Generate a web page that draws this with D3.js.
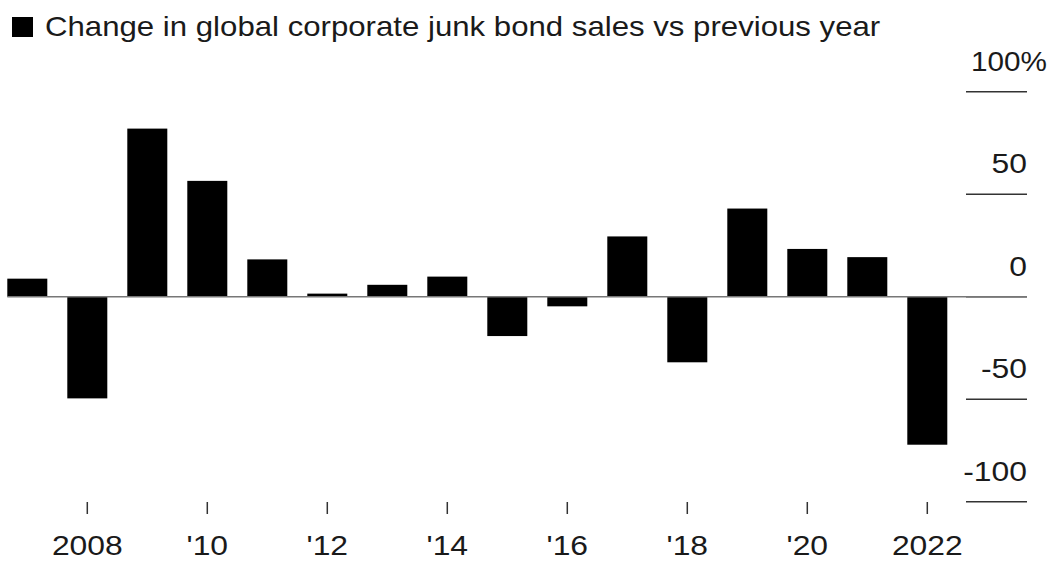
<!DOCTYPE html>
<html lang="en">
<head>
<meta charset="utf-8">
<title>Junk bond sales</title>
<script src="https://d3js.org/d3.v7.min.js"></script>
<style>
  body { margin: 0; background: #fff; }
  svg text { font-family: "Liberation Sans", Arial, sans-serif; fill: #1a1a1a; }
</style>
</head>
<body>
<div id="chart"></div>
<script>
// data
const years = [2007, 2008, 2009, 2010, 2011, 2012, 2013, 2014, 2015, 2016, 2017, 2018, 2019, 2020, 2021, 2022];
const change = [8.8, -49.6, 82, 56.5, 18.2, 1.5, 5.8, 9.8, -19.2, -4.7, 29.4, -32, 43, 23.3, 19.3, -72.2];
const xTickYears = [2008, 2010, 2012, 2014, 2016, 2018, 2020, 2022];
const xTickLabels = ["2008", "'10", "'12", "'14", "'16", "'18", "'20", "2022"];
const yTicks = [100, 50, 0, -50, -100];
const yTickLabels = ["100%", "50", "0", "-50", "-100"];
const title = "Change in global corporate junk bond sales vs previous year";

const width = 1050, height = 563;
const stretch = 1.18; // reference type is set wide

const svg = d3.select("#chart").append("svg")
  .attr("width", width).attr("height", height);

const x = d3.scaleBand()
  .domain(years)
  .range([-2.7, 957.3])
  .paddingInner(1 / 3)
  .paddingOuter(1 / 6);

const y = d3.scaleLinear().domain([-100, 100]).range([501.7, 91.7]);

// legend / title
svg.append("rect").attr("x", 12).attr("y", 17).attr("width", 21).attr("height", 20).attr("fill", "#000");
svg.append("text")
  .attr("transform", "translate(45,36) scale(1.155,1)")
  .attr("font-size", 27).text(title);

// right side gridline stubs + labels
const gridX0 = 966, gridX1 = 1027;
svg.append("g").selectAll("line").data(yTicks).join("line")
  .attr("x1", gridX0).attr("x2", gridX1)
  .attr("y1", d => y(d)).attr("y2", d => y(d))
  .attr("stroke", "#333").attr("stroke-width", 1.5);

// top label keeps its "%" inside the frame
svg.append("g").selectAll("text").data(yTicks).join("text")
  .attr("transform", (d, i) => i === 0
    ? `translate(971,${y(d) - 21}) scale(1.1,1)`
    : `translate(${gridX1},${y(d) - 21}) scale(${stretch},1)`)
  .attr("text-anchor", (d, i) => i === 0 ? "start" : "end")
  .attr("font-size", 27)
  .text((d, i) => yTickLabels[i]);

// bars
svg.append("g").selectAll("rect").data(years).join("rect")
  .attr("x", d => x(d))
  .attr("width", x.bandwidth())
  .attr("y", (d, i) => y(Math.max(0, change[i])))
  .attr("height", (d, i) => Math.abs(y(change[i]) - y(0)))
  .attr("fill", "#000");

// zero line
svg.append("line")
  .attr("x1", x(2007)).attr("x2", gridX1)
  .attr("y1", y(0)).attr("y2", y(0))
  .attr("stroke", "#777").attr("stroke-width", 1.5);

// x axis ticks + labels
const xc = d => x(d) + x.bandwidth() / 2;
const xg = svg.append("g");
xg.selectAll("line").data(xTickYears).join("line")
  .attr("x1", xc).attr("x2", xc)
  .attr("y1", 502).attr("y2", 514)
  .attr("stroke", "#333").attr("stroke-width", 1.5);
xg.selectAll("text").data(xTickYears).join("text")
  .attr("transform", d => `translate(${xc(d)},555) scale(${stretch},1)`)
  .attr("text-anchor", "middle")
  .attr("font-size", 27)
  .text((d, i) => xTickLabels[i]);
</script>
</body>
</html>
